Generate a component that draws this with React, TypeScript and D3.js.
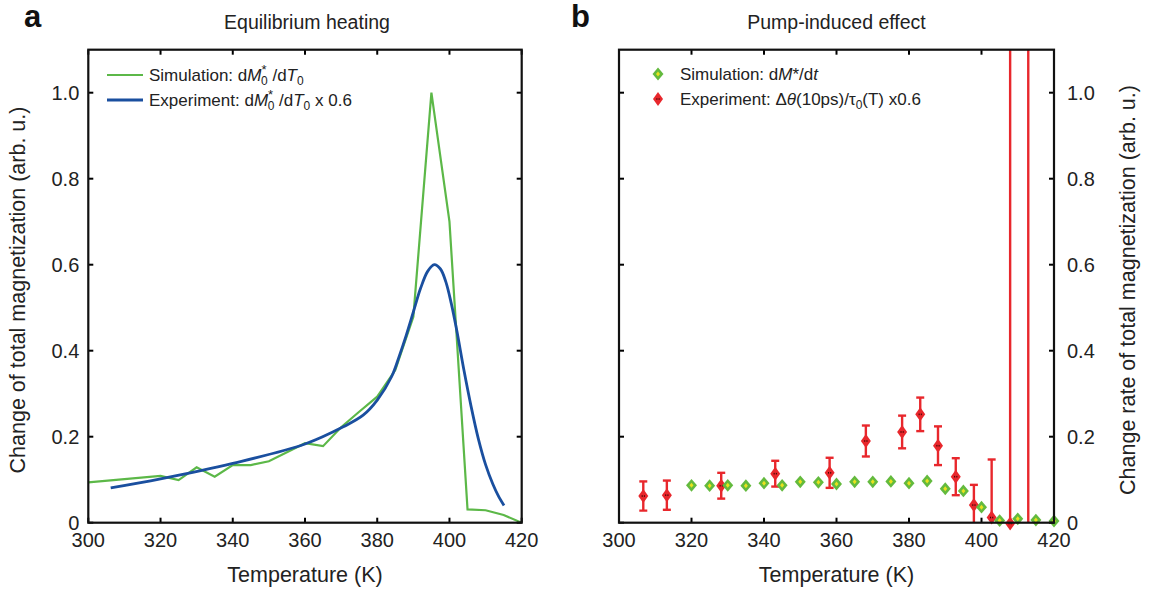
import React from 'react';
import * as d3 from 'd3';

// ---------- data ----------
const xTicks = [300, 320, 340, 360, 380, 400, 420];
const yTicks = [0, 0.2, 0.4, 0.6, 0.8, 1.0];
const yTickLabels = ['0', '0.2', '0.4', '0.6', '0.8', '1.0'];

// Panel a: simulation dM0*/dT0
const simHeatT = [300, 320, 325, 330, 335, 340, 345, 350, 355, 360, 365, 370, 375, 380, 385, 390, 395, 400, 405, 410, 415, 420];
const simHeatV = [0.094, 0.109, 0.099, 0.129, 0.107, 0.134, 0.134, 0.143, 0.164, 0.185, 0.178, 0.222, 0.258, 0.293, 0.355, 0.479, 1.0, 0.70, 0.031, 0.029, 0.018, 0.0];

// Panel a: experiment dM0*/dT0 x 0.6 (smooth)
const expHeatT = [306.2, 320, 340, 360, 370.6, 376.1, 380, 384, 386, 388, 390, 392, 394, 395.8, 397.5, 399, 400.5, 402, 404, 406, 408, 410, 412, 413.5, 415.1];
const expHeatV = [0.081, 0.102, 0.138, 0.183, 0.223, 0.250, 0.285, 0.34, 0.385, 0.435, 0.49, 0.545, 0.585, 0.600, 0.590, 0.56, 0.51, 0.448, 0.355, 0.27, 0.195, 0.135, 0.09, 0.063, 0.040];

// Panel b: simulation dM*/dt
const simRateT = [320, 325, 330, 335, 340, 345, 350, 355, 360, 365, 370, 375, 380, 385, 390, 395, 400, 405, 410, 415, 420];
const simRateV = [0.087, 0.086, 0.087, 0.086, 0.092, 0.087, 0.095, 0.094, 0.090, 0.095, 0.095, 0.096, 0.092, 0.097, 0.079, 0.074, 0.036, 0.005, 0.009, 0.006, 0.004];

// Panel b: experiment with error bars
const expRateT = [306.7, 313.2, 328.2, 343.1, 358.1, 368.1, 378.1, 383.1, 388.0, 392.9, 397.9, 402.8, 407.9, 412.9];
const expRateV = [0.062, 0.064, 0.086, 0.114, 0.116, 0.190, 0.211, 0.252, 0.179, 0.107, 0.041, 0.012, -0.002, -0.1];
const expRateErr = [0.034, 0.034, 0.030, 0.030, 0.035, 0.036, 0.038, 0.039, 0.045, 0.043, 0.047, 0.135, 1.5, 1.5];

// ---------- style ----------
const FONT = '"Liberation Sans", Arial, Helvetica, sans-serif';
const GREEN_LINE = '#5cb848';
const BLUE = '#1a4f9f';
const RED = '#e8272c';
const D_GREEN = '#63ba3e';
const D_YELLOW = '#e8e21e';

const yScale = d3.scaleLinear().domain([0, 1.1]).range([522.7, 49.7]);
const xA = d3.scaleLinear().domain([300, 420]).range([88.3, 521.7]);
const xB = d3.scaleLinear().domain([300, 420]).range([619, 1054]);

const TICK = 5;

function Frame({ x, leftLabels }: { x: d3.ScaleLinear<number, number>; leftLabels: boolean }) {
  const [x0, x1] = x.range();
  const [yb, yt] = yScale.range();
  return (
    <g>
      {xTicks.map((t) => (
        <g key={'xt' + t}>
          <line x1={x(t)} x2={x(t)} y1={yb} y2={yb - TICK} stroke="#000" strokeWidth={2} />
          <line x1={x(t)} x2={x(t)} y1={yt} y2={yt + TICK} stroke="#000" strokeWidth={2} />
          <text x={x(t)} y={547} textAnchor="middle" fontSize={20} fontFamily={FONT} fill="#222">{t}</text>
        </g>
      ))}
      {yTicks.map((v, i) => (
        <g key={'yt' + v}>
          <line x1={x0} x2={x0 + TICK} y1={yScale(v)} y2={yScale(v)} stroke="#000" strokeWidth={2} />
          <line x1={x1} x2={x1 - TICK} y1={yScale(v)} y2={yScale(v)} stroke="#000" strokeWidth={2} />
          {leftLabels ? (
            <text x={x0 - 9} y={yScale(v) + 7} textAnchor="end" fontSize={20} fontFamily={FONT} fill="#222">{yTickLabels[i]}</text>
          ) : (
            <text x={x1 + 13} y={yScale(v) + 7} textAnchor="start" fontSize={20} fontFamily={FONT} fill="#222">{yTickLabels[i]}</text>
          )}
        </g>
      ))}
      <rect x={x0} y={yt} width={x1 - x0} height={yb - yt} fill="none" stroke="#111" strokeWidth={2.2} />
      <text x={(x0 + x1) / 2} y={582} textAnchor="middle" fontSize={21.5} fontFamily={FONT} fill="#222">Temperature (K)</text>
    </g>
  );
}

function diamond(cx: number, cy: number, hw: number, hh: number) {
  return `M${cx},${cy - hh}L${cx + hw},${cy}L${cx},${cy + hh}L${cx - hw},${cy}Z`;
}

function GreenDiamond({ cx, cy }: { cx: number; cy: number }) {
  return (
    <g>
      <path d={diamond(cx, cy, 5.5, 6.4)} fill={D_GREEN} />
      <path d={diamond(cx, cy, 2, 2.5)} fill={D_YELLOW} />
    </g>
  );
}

function RedDiamond({ cx, cy }: { cx: number; cy: number }) {
  return (
    <g>
      <path d={diamond(cx, cy, 5, 7)} fill={RED} />
      <rect x={cx - 1.6} y={cy - 0.8} width={1} height={1.6} fill="#3a0000" />
      <rect x={cx + 0.6} y={cy - 0.8} width={1} height={1.6} fill="#3a0000" />
    </g>
  );
}

export default function App() {
  const [ybA, ytA] = yScale.range();
  const simHeatData = simHeatT.map((t, i) => [t, simHeatV[i]] as [number, number]);
  const expHeatData = expHeatT.map((t, i) => [t, expHeatV[i]] as [number, number]);
  const lineSim = d3.line<[number, number]>().x((d) => xA(d[0])).y((d) => yScale(d[1]));
  const lineExp = d3
    .line<[number, number]>()
    .x((d) => xA(d[0]))
    .y((d) => yScale(d[1]))
    .curve(d3.curveCatmullRom.alpha(0.5));

  const [b0, b1] = xB.range();

  return (
    <svg width={1149} height={594} style={{ position: 'absolute', left: 0, top: 0, background: '#fff' }}>
      <defs>
        <clipPath id="clipA">
          <rect x={xA.range()[0]} y={ytA} width={xA.range()[1] - xA.range()[0]} height={ybA - ytA} />
        </clipPath>
        <clipPath id="clipB">
          <rect x={b0} y={ytA} width={b1 - b0} height={ybA - ytA} />
        </clipPath>
        <clipPath id="clipBm">
          <rect x={b0 - 10} y={ytA} width={b1 - b0 + 20} height={ybA - ytA + 8} />
        </clipPath>
      </defs>
      <rect x={0} y={0} width={1149} height={594} fill="#fff" />

      {/* Panel letters and titles */}
      <text x={24} y={27} fontSize={31} fontWeight="bold" fontFamily={FONT} fill="#111">a</text>
      <text x={571} y={27} fontSize={31} fontWeight="bold" fontFamily={FONT} fill="#111">b</text>
      <text x={307} y={29} textAnchor="middle" fontSize={19.5} fontFamily={FONT} fill="#222">Equilibrium heating</text>
      <text x={836.5} y={29} textAnchor="middle" fontSize={19.5} fontFamily={FONT} fill="#222">Pump-induced effect</text>

      {/* Panel a */}
      <g clipPath="url(#clipA)">
        <path d={lineSim(simHeatData) || ''} fill="none" stroke={GREEN_LINE} strokeWidth={2.2} />
        <path d={lineExp(expHeatData) || ''} fill="none" stroke={BLUE} strokeWidth={2.8} />
      </g>
      <Frame x={xA} leftLabels={true} />
      <text transform={`translate(24.5,290) rotate(-90)`} textAnchor="middle" fontSize={21.5} fontFamily={FONT} fill="#222">
        Change of total magnetization (arb. u.)
      </text>

      {/* Legend a */}
      <line x1={107} x2={143} y1={75} y2={75} stroke={GREEN_LINE} strokeWidth={2.2} />
      <text x={149} y={81} fontSize={17} fontFamily={FONT} fill="#222">
        Simulation: d<tspan fontStyle="italic">M</tspan>
        <tspan fontSize={13} dy={-7}>*</tspan>
        <tspan fontSize={12} dx={-5.5} dy={11}>0</tspan>
        <tspan dy={-4}> /d</tspan>
        <tspan fontStyle="italic">T</tspan>
        <tspan fontSize={12} dy={4}>0</tspan>
      </text>
      <line x1={107} x2={143} y1={100} y2={100} stroke={BLUE} strokeWidth={2.8} />
      <text x={149} y={106} fontSize={17} fontFamily={FONT} fill="#222">
        Experiment: d<tspan fontStyle="italic">M</tspan>
        <tspan fontSize={13} dy={-7}>*</tspan>
        <tspan fontSize={12} dx={-5.5} dy={11}>0</tspan>
        <tspan dy={-4}> /d</tspan>
        <tspan fontStyle="italic">T</tspan>
        <tspan fontSize={12} dy={4}>0</tspan>
        <tspan dy={-4}> x 0.6</tspan>
      </text>

      {/* Panel b */}
      <g clipPath="url(#clipB)">
        {expRateT.map((t, i) => {
          const cx = xB(t);
          const lo = yScale(expRateV[i] - expRateErr[i]);
          const hi = yScale(expRateV[i] + expRateErr[i]);
          return (
            <g key={'eb' + i}>
              <line x1={cx} x2={cx} y1={lo} y2={hi} stroke={RED} strokeWidth={2.4} />
              <line x1={cx - 4} x2={cx + 4} y1={lo} y2={lo} stroke={RED} strokeWidth={2.4} />
              <line x1={cx - 4} x2={cx + 4} y1={hi} y2={hi} stroke={RED} strokeWidth={2.4} />
            </g>
          );
        })}
      </g>
      <g clipPath="url(#clipBm)">
        {expRateT.map((t, i) => (
          <RedDiamond key={'rd' + i} cx={xB(t)} cy={yScale(expRateV[i])} />
        ))}
        {simRateT.map((t, i) => (
          <GreenDiamond key={'gd' + i} cx={xB(t)} cy={yScale(simRateV[i])} />
        ))}
      </g>
      <Frame x={xB} leftLabels={false} />
      <text transform={`translate(1134.5,290) rotate(-90)`} textAnchor="middle" fontSize={21.5} fontFamily={FONT} fill="#222">
        Change rate of total magnetization (arb. u.)
      </text>

      {/* Legend b */}
      <GreenDiamond cx={658} cy={74} />
      <text x={680} y={80} fontSize={17} fontFamily={FONT} fill="#222">
        Simulation: d<tspan fontStyle="italic">M</tspan>*/d<tspan fontStyle="italic">t</tspan>
      </text>
      <RedDiamond cx={658} cy={99} />
      <text x={680} y={105} fontSize={17} fontFamily={FONT} fill="#222">
        Experiment: Δ<tspan fontStyle="italic">θ</tspan>(10ps)/τ
        <tspan fontSize={12} dy={4}>0</tspan>
        <tspan dy={-4}>(T) x0.6</tspan>
      </text>
    </svg>
  );
}
